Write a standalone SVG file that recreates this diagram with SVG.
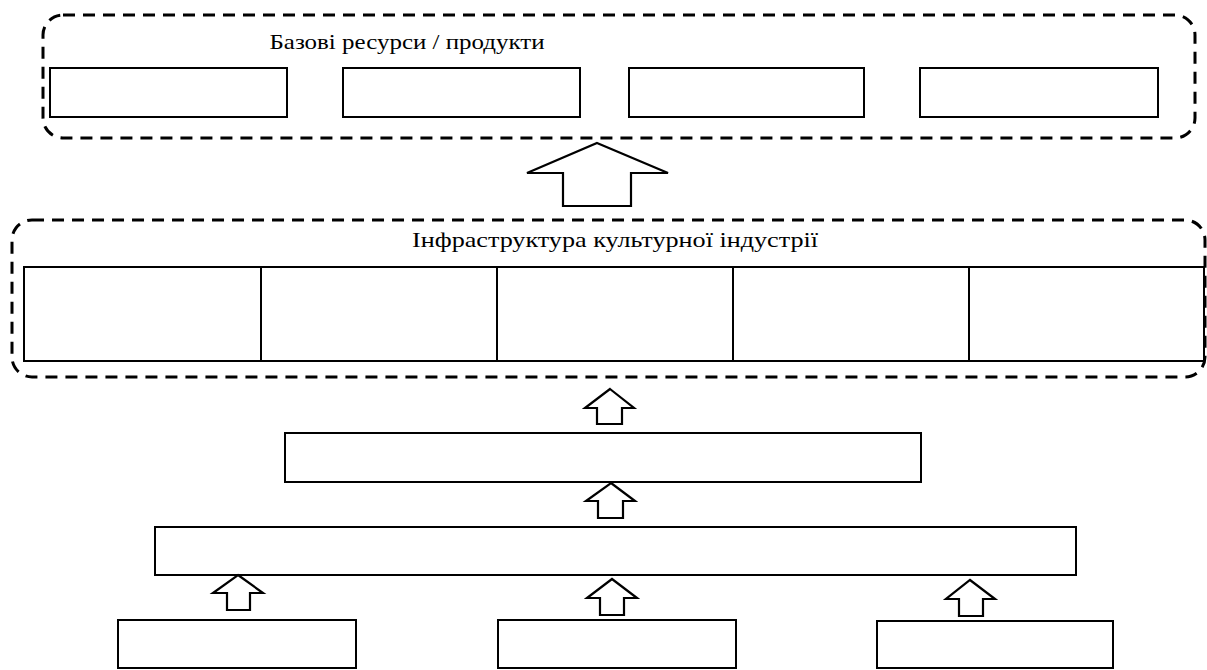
<svg xmlns="http://www.w3.org/2000/svg" width="1207" height="670" viewBox="0 0 1207 670">
<style>
.bg{fill:#fff}
.grp{fill:none;stroke:#000;stroke-width:3;stroke-dasharray:12 8}
.box{fill:#fff;stroke:#000;stroke-width:2}
.arr{fill:#fff;stroke:#000;stroke-width:2.2;stroke-linejoin:miter}
.lbl{font-family:"Liberation Serif","Times New Roman","DejaVu Serif",serif;font-size:22px;fill:#000;text-anchor:middle}
</style>
<rect class="bg" x="0" y="0" width="1207" height="670"/>
<g id="group-base">
<rect class="grp" x="43" y="15" width="1152" height="123" rx="20" ry="20"/>
<text class="lbl" x="407" y="49" textLength="275" lengthAdjust="spacingAndGlyphs">Базові ресурси / продукти</text>
</g>
<g id="base-1"><rect class="box" x="50" y="68" width="237" height="49"/></g>
<g id="base-2"><rect class="box" x="343" y="68" width="237" height="49"/></g>
<g id="base-3"><rect class="box" x="629" y="68" width="235" height="49"/></g>
<g id="base-4"><rect class="box" x="920" y="68" width="238" height="49"/></g>
<g id="group-infra">
<rect class="grp" x="12" y="220" width="1193" height="157" rx="20" ry="20"/>
<text class="lbl" x="615" y="247" textLength="406" lengthAdjust="spacingAndGlyphs">Інфраструктура культурної індустрії</text>
</g>
<g id="infra-1"><rect class="box" x="24" y="267" width="237" height="94"/></g>
<g id="infra-2"><rect class="box" x="261" y="267" width="236" height="94"/></g>
<g id="infra-3"><rect class="box" x="497" y="267" width="236" height="94"/></g>
<g id="infra-4"><rect class="box" x="733" y="267" width="236" height="94"/></g>
<g id="infra-5"><rect class="box" x="969" y="267" width="235" height="94"/></g>
<g id="level-2"><rect class="box" x="285" y="433" width="636" height="49"/></g>
<g id="level-3"><rect class="box" x="155" y="527" width="921" height="48"/></g>
<g id="src-1"><rect class="box" x="118" y="620" width="238" height="48"/></g>
<g id="src-2"><rect class="box" x="498" y="620" width="238" height="48"/></g>
<g id="src-3"><rect class="box" x="877" y="621" width="236" height="47"/></g>
<g id="connectors">
<polygon class="arr" points="597,143 668,173 631,173 631,206 563,206 563,173 527,173"/>
<polygon class="arr" points="610,389 634,408 622,408 622,424 597,424 597,408 585,408"/>
<polygon class="arr" points="611,483 635,501 623,501 623,518 598,518 598,501 586,501"/>
<polygon class="arr" points="238,575 263,593 250,593 250,610 227,610 227,593 213,593"/>
<polygon class="arr" points="612,579 637,598 624,598 624,615 600,615 600,598 587,598"/>
<polygon class="arr" points="970,580 995,599 983,599 983,616 959,616 959,599 946,599"/>
</g>
</svg>
